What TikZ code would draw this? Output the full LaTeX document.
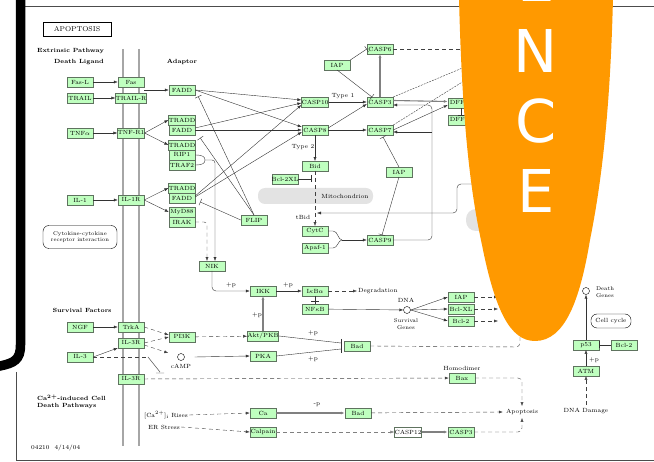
\documentclass[tikz,border=0pt]{standalone}
\usepackage{fontspec}
\newfontfamily\bannerfont{DejaVu Sans}
\usetikzlibrary{arrows.meta,positioning}
\definecolor{keggreen}{RGB}{191,255,191}
\definecolor{keggedge}{RGB}{95,115,95}
\definecolor{banner}{RGB}{255,153,0}
\tikzset{
  gene/.style={draw=keggedge, fill=keggreen, minimum width=26pt, minimum height=9.5pt, inner sep=0pt, font=\fontsize{6}{7}\selectfont},
  lbl/.style={inner sep=1pt, font=\fontsize{6}{7}\selectfont},
  hdr/.style={inner sep=0pt, font=\fontsize{6}{7}\selectfont\bfseries},
  act/.style={->, black!80},
  inh/.style={-{Bar[width=7pt]}, black!80},
  ind/.style={->, black!75, dash pattern=on 4pt off 3pt},
  thickact/.style={->, gray, line width=1.1pt},
  compound/.style={draw, circle, minimum size=7pt, inner sep=0pt},
}
\begin{document}
\begin{tikzpicture}[x=1pt,y=-1pt,>={Latex[length=4pt,width=3pt]}]
\useasboundingbox (0,0) rectangle (654,462);
\clip (0,0) rectangle (654,462);
% frame
\draw[black!70,line width=0.8pt] (25,6) -- (654,6);
\draw[black!70,line width=0.8pt] (16,372) -- (16,460) -- (654,460);
\draw[line width=9.5pt] (20.5,-5) -- (20.5,345) .. controls (20.5,360) and (14,363) .. (0,366) -- (-6,367);
% membrane
\draw[gray!70,line width=2.2pt] (123,49) -- (123,446) (139,49) -- (139,446);
% gray compartments
\fill[gray!22, rounded corners=7pt] (258,188) rectangle (373,204);
\fill[gray!22, rounded corners=10pt] (466,209) rectangle (560,231);
\node[lbl] (mito) at (345,196) {Mitochondrion};

% headings
\node[draw, fill=white, minimum width=68pt, minimum height=14pt, inner sep=0pt, font=\fontsize{7}{8}\selectfont] (apo) at (77,29) {APOPTOSIS};
\node[hdr, anchor=west] (extr) at (37,51) {Extrinsic Pathway};
\node[hdr] (ligand) at (79,62) {Death Ligand};
\node[hdr] (adaptor) at (182,62) {Adaptor};
\node[hdr] (survf) at (82,310) {Survival Factors};
\node[hdr, anchor=west, align=left] (cadeath) at (37,402) {Ca\textsuperscript{2+}-induced Cell\\Death Pathways};
\node[lbl, anchor=west] (ver) at (30,448) {04210\ \ 4/14/04};
\node[draw, rounded corners=6pt, minimum width=74pt, minimum height=23pt, inner sep=0pt, align=center, font=\fontsize{5.5}{6.5}\selectfont] (cytokine) at (80,237) {Cytokine-cytokine\\receptor interaction};
\node[draw, rounded corners=6pt, minimum width=40pt, minimum height=14pt, inner sep=0pt, font=\fontsize{6}{7}\selectfont] (cellcycle) at (611,321) {Cell cycle};

% ligands and receptors
\node[gene] (fasl) at (80,82) {Fas-L};
\node[gene] (fas) at (131,82) {Fas};
\node[gene] (trail) at (80,98) {TRAIL};
\node[gene] (trailr) at (131,98) {TRAIL-R};
\node[gene] (tnfa) at (80,133) {TNF$\alpha$};
\node[gene] (tnfr) at (131,133) {TNF-R1};
\node[gene] (il1) at (80,200) {IL-1};
\node[gene] (il1r) at (131,200) {IL-1R};
% adaptors
\node[gene] (faddA) at (182,90) {FADD};
\node[gene] (traddB) at (182,120) {TRADD};
\node[gene] (faddB) at (182,130) {FADD};
\node[gene] (traddC) at (182,145) {TRADD};
\node[gene] (rip) at (182,155) {RIP1};
\node[gene] (traf) at (182,165) {TRAF2};
\node[gene] (traddD) at (182,188) {TRADD};
\node[gene] (faddD) at (182,198) {FADD};
\node[gene] (myd) at (182,212) {MyD88};
\node[gene] (irak) at (182,222) {IRAK};
\node[gene] (flip) at (254,220) {FLIP};
\node[gene] (nik) at (212,266) {NIK};
% caspases
\node[gene] (casp10) at (315,102) {CASP10};
\node[gene] (casp8) at (315,130) {CASP8};
\node[gene] (casp3) at (380,102) {CASP3};
\node[gene] (casp7) at (380,130) {CASP7};
\node[gene] (casp6) at (380,49) {CASP6};
\node[gene] (iapA) at (337,65) {IAP};
\node[gene] (dff45) at (461,103) {DFF45};
\node[gene] (dff40) at (461,120) {DFF40};
\node[lbl] (type1) at (343,96) {Type 1};
\node[lbl] (type2) at (303,147) {Type 2};
% mitochondrial branch
\node[gene] (bid) at (315,166) {Bid};
\node[gene] (bclxl) at (285,179) {Bcl-2XL};
\node[lbl] (tbid) at (303,217) {tBid};
\node[gene] (cytc) at (315,231) {CytC};
\node[gene] (apaf) at (315,248) {Apaf-1};
\node[gene] (casp9) at (380,240) {CASP9};
\node[gene] (iapB) at (399,172) {IAP};
% NF-kB branch
\node[gene] (ikk) at (263,291) {IKK};
\node[gene] (ikba) at (315,291) {I$\kappa$B$\alpha$};
\node[gene] (nfkb) at (315,309) {NF$\kappa$B};
\node[lbl, anchor=west] (degr) at (357,291) {Degradation};
\node[compound] (dna) at (407,310) {};
\node[lbl] (dnalbl) at (406,300) {DNA};
\node[lbl, align=center, font=\fontsize{5.5}{6.5}\selectfont] (survg) at (406,324) {Survival\\Genes};
\node[gene] (iapC) at (461,297) {IAP};
\node[gene] (bclxlB) at (461,309) {Bcl-XL};
\node[gene] (bcl2A) at (461,321) {Bcl-2};
% survival factors
\node[gene] (ngf) at (80,327) {NGF};
\node[gene] (trka) at (131,327) {TrkA};
\node[gene] (il3r) at (131,343) {IL-3R};
\node[gene] (il3) at (80,357) {IL-3};
\node[gene] (il3rb) at (131,379) {IL-3R};
\node[gene] (pi3k) at (182,337) {PI3K};
\node[compound] (camp) at (181,357) {};
\node[lbl] (camplbl) at (181,366) {cAMP};
\node[gene] (akt) at (263,336) {Akt/PKB};
\node[gene] (pka) at (263,356) {PKA};
\node[gene] (bad) at (357,346) {Bad};
\node[gene] (bax) at (462,378) {Bax};
\node[lbl] (homod) at (462,368) {Homodimer};
% calcium
\node[lbl] (carise) at (166,415) {[Ca$^{2+}$]$_{\rm i}$ Rises};
\node[lbl] (erstress) at (164,427) {ER Stress};
\node[gene] (ca) at (263,413) {Ca};
\node[gene] (badB) at (358,413) {Bad};
\node[gene] (calpain) at (263,432) {Calpain};
\node[gene, fill=white] (casp12) at (408,432) {CASP12};
\node[gene] (casp3B) at (461,432) {CASP3};
\node[lbl, inner sep=3pt] (apopt) at (522,412) {Apoptosis};
% p53
\node[gene] (p53) at (586,345) {p53};
\node[gene] (bcl2B) at (624,345) {Bcl-2};
\node[gene] (atm) at (586,371) {ATM};
\node[lbl, inner sep=3pt] (dnadmg) at (586,411) {DNA Damage};
\node[compound] (deathg) at (586,291) {};
\node[lbl, anchor=west, align=left, font=\fontsize{5.5}{6.5}\selectfont] (deathlbl) at (595,292) {Death\\Genes};

% receptors
\draw[act] (fasl) -- (fas);
\draw[act] (trail) -- (trailr);
\draw[act] (tnfa) -- (tnfr);
\draw[act] (il1) -- (il1r);
\draw[act] (fas.south east |- faddA.west) -- (faddA.west);
\draw[act] (tnfr.east) -- (traddB.west);
\draw[act] (tnfr.east) -- (traddC.west);
\draw[act] (il1r.east) -- (traddD.west);
\draw[act] (il1r.east) -- (myd.west);
% adaptors to caspases
\draw[act] (faddA.east) -- ([yshift=2pt]casp10.west);
\draw[act] (faddA.east) -- ([yshift=3pt]casp8.west);
\draw[act] ([yshift=2pt]faddB.east) -- ([yshift=-1pt]casp10.west);
\draw[act] (faddB.east) -- (casp8.west);
\draw[act] ([yshift=2pt]faddD.east) -- ([yshift=-3pt]casp10.west);
\draw[act] ([yshift=1pt]faddD.east) -- ([yshift=-2pt]casp8.west);
\draw[inh] (flip.north) -- ([shift={(3pt,-1.5pt)}]faddA.south east);
\draw[inh] (flip.north) -- ([shift={(5pt,-3pt)}]faddB.south east);
\draw[inh] (flip.west) -- ([shift={(5pt,1pt)}]faddD.south east);
% NIK
\draw[black!80] (rip.east) .. controls (203,155) and (205,157) .. (205,160) .. controls (205,163) and (203,165) .. (traf.east);
\draw[act, rounded corners=3pt] (205,160) -- (215,160) -- ([xshift=3pt]nik.north);
\draw[ind, rounded corners=3pt] (irak.east) -- (207,222) -- ([xshift=-5pt]nik.north);
\draw[act, rounded corners=4pt] (nik.south) -- (212,291) -- (ikk.west);
\node[lbl] (p1) at (231,285) {+p};
% caspase cascade
\draw[act] (casp10) -- (casp3);
\draw[act] ([yshift=2pt]casp8.east) -- ([yshift=-2pt]casp3.west);
\draw[act] (casp8) -- (casp7);
\draw[act] (casp8.south) -- (bid.north);
\draw[thickact] (casp3.north) -- (casp6.south);
\draw[black!75, dash pattern=on 4pt off 3pt] (casp6.east) -- (470,49);
\draw[inh] (iapA.north east) -- (casp6.west);
\draw[inh] (iapA.south) -- ([xshift=-8pt]casp3.north);
\draw[black!75, dash pattern=on 2pt off 1pt] (casp3.north east) -- (472,64);
\draw[black!75, dash pattern=on 2pt off 1pt] (casp7.north east) -- (472,76);
\draw[thickact] ([yshift=1.5pt]casp3.east) -- ([yshift=1.5pt]dff45.west);
\draw[act] (casp7.east) -- ([yshift=-2pt]dff45.west);
\draw[inh] (dff45.south) -- (dff40.north);
\draw[act, rounded corners=4pt] (casp9.east) -- (432,240) -- (432,105) -- ([yshift=-3pt]casp3.east);
\draw[act] (432,132) -- ([yshift=-2pt]casp7.east);
\draw[inh] (iapB.north) -- ([shift={(3pt,-2pt)}]casp7.south);
\draw[inh] (iapB.south) -- ([xshift=2pt]casp9.north);
% mitochondria
\draw[inh] (bclxl.east) -- ([xshift=-4pt]bid.south |- bclxl.east);
\draw[ind] (bid.south) -- (cytc.north);
\draw[act, rounded corners=4pt] (480,184) -- (457,184) -- (457,213) -- (317,213);
\draw[black!80] (cytc.east) -- (333,231) .. controls (338,231) and (338,240) .. (342,240);
\draw[black!80] (apaf.east) -- (333,248) .. controls (338,248) and (338,240) .. (342,240);
\draw[act] (342,240) -- (casp9.west);
% NF-kB
\draw[act] (ikk) -- (ikba);
\node[lbl] (p2) at (288,285) {+p};
\draw[ind] (ikba) -- (degr);
\draw[black!80] (ikba.south) -- (nfkb.north) (311,301) -- (319,301);
\draw[act] (nfkb) -- (dna);
\draw[act] (dna.east) -- (iapC.west);
\draw[act] (dna.east) -- (bclxlB.west);
\draw[act] (dna.east) -- (bcl2A.west);
\draw[ind] (iapC.east) -- (498,297);
\draw[ind] (bclxlB.east) -- (498,309);
\draw[ind] (bcl2A.east) -- (498,321);
% survival factors
\draw[act] (ngf) -- (trka);
\draw[act] (il3.east) -- (il3r.south west);
\draw[ind] (trka.east) -- ([yshift=2pt]pi3k.west);
\draw[ind] (il3r.east) -- (pi3k.west);
\draw[ind] ([yshift=-2pt]il3r.east) -- ([shift={(-9pt,4pt)}]camp.west);
\draw[black!75, dash pattern=on 4pt off 3pt] (il3.east) -- (148,357);
\draw[black!80] (148,357) -- (160,372) (156,373) -- (164,373);
\draw[ind] (il3rb) -- (bax);
\draw[ind] (pi3k) -- (akt);
\draw[act] ([xshift=10pt]camp.east) -- (pka.west);
\draw[thickact] (akt.north) -- (ikk.south);
\node[lbl] (p3) at (257,315) {+p};
\draw[black!80] (akt.east) -- (341,343) (pka.east) -- (341,349);
\draw[black!80, line width=0.7pt] (341,339) -- (341,353);
\node[lbl] (p4) at (313,333) {+p};
\node[lbl] (p5) at (313,359) {+p};
\draw[black!75, dash pattern=on 4pt off 3pt, rounded corners=4pt] (bad.east) -- (520,347) -- (520,320);
\draw[ind, rounded corners=4pt] (bax.east) -- (apopt.north |- bax.east) -- (apopt.north);
% calcium
\draw[ind] (carise.east) -- (ca.west);
\draw[ind] (erstress.east) -- (calpain.west);
\draw[thickact] (ca) -- (badB);
\node[lbl] (p6) at (317,405) {-p};
\draw[ind] (badB) -- (apopt.west);
\draw[ind, gray] (calpain) -- (casp12);
\draw[thickact] (casp12) -- (casp3B);
\draw[ind, rounded corners=4pt] (casp3B.east) -- (apopt.south |- casp3B.east) -- (apopt.south);
% p53
\draw[ind] (dnadmg.north) -- (atm.south);
\draw[act] (atm) -- (p53);
\node[lbl] (p7) at (594,360) {+p};
\draw[act] (p53) -- (deathg);
\draw[inh] (bcl2B) -- (p53);

% banner
\fill[banner] (459,-2) .. controls (462,120) and (470,190) .. (482,245) .. controls (495,310) and (510,341) .. (535,341) .. controls (565,341) and (580,300) .. (590,240) .. controls (600,190) and (610,120) .. (613,-2) -- cycle;
\foreach \ch/\yy in {E/2,N/73,C/143,E/213}
  \node[text=white, font=\bannerfont\fontsize{59}{60}\selectfont, anchor=base, inner sep=0pt] at (536,\yy) {\ch};
\end{tikzpicture}
\end{document}
